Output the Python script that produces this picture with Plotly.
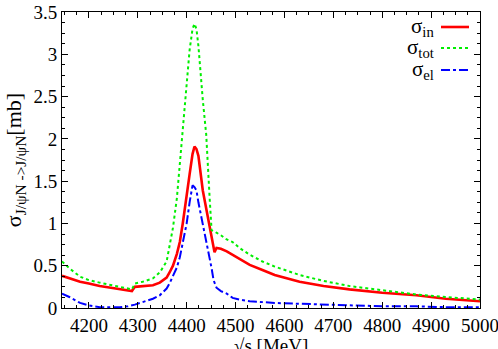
import plotly.graph_objects as go

# sqrt(s) grid [MeV] and cross sections [mb]
energy = [4145, 4160, 4182, 4200, 4222, 4245, 4263, 4280, 4288, 4294, 4310, 4331,
          4345, 4359, 4365, 4372, 4380, 4386, 4392, 4400, 4406, 4412, 4416, 4420,
          4424, 4433, 4440, 4447, 4451, 4455, 4457, 4461, 4470, 4482, 4494, 4508,
          4529, 4555, 4580, 4631, 4680, 4733, 4800, 4870, 4930, 5000]

sigma_in = [0.38, 0.35, 0.31, 0.29, 0.26, 0.24, 0.22, 0.21, 0.20, 0.25, 0.26, 0.27,
            0.30, 0.36, 0.42, 0.50, 0.64, 0.78, 1.00, 1.30, 1.58, 1.82, 1.91, 1.88,
            1.80, 1.39, 1.18, 0.98, 0.85, 0.70, 0.66, 0.71, 0.70, 0.67, 0.63, 0.58,
            0.51, 0.45, 0.39, 0.31, 0.26, 0.22, 0.18, 0.15, 0.11, 0.08]

sigma_tot = [0.55, 0.47, 0.37, 0.33, 0.30, 0.27, 0.25, 0.23, 0.22, 0.29, 0.31, 0.35,
             0.42, 0.55, 0.72, 0.95, 1.30, 1.70, 2.20, 2.65, 3.05, 3.30, 3.36, 3.30,
             3.10, 2.46, 2.05, 1.30, 0.92, 0.91, 0.90, 0.89, 0.86, 0.81, 0.78, 0.71,
             0.63, 0.55, 0.49, 0.39, 0.32, 0.26, 0.21, 0.16, 0.13, 0.10]

sigma_el = [0.17, 0.13, 0.06, 0.03, 0.01, 0.01, 0.01, 0.02, 0.03, 0.04, 0.07, 0.11,
            0.15, 0.23, 0.29, 0.38, 0.48, 0.60, 0.78, 1.00, 1.25, 1.45, 1.43, 1.39,
            1.25, 1.00, 0.80, 0.60, 0.47, 0.33, 0.30, 0.24, 0.20, 0.17, 0.12, 0.10,
            0.08, 0.07, 0.06, 0.05, 0.04, 0.03, 0.02, 0.02, 0.01, 0.01]

FONT = "Liberation Serif, Times New Roman, serif"

fig = go.Figure()
fig.add_trace(go.Scatter(x=energy, y=sigma_in, mode="lines",
                         line=dict(color="#ff0000", width=2.6)))
fig.add_trace(go.Scatter(x=energy, y=sigma_tot, mode="lines",
                         line=dict(color="#00ee00", width=2, dash="dot")))
fig.add_trace(go.Scatter(x=energy, y=sigma_el, mode="lines",
                         line=dict(color="#0000ff", width=2, dash="dashdot")))

axis_common = dict(showline=True, linecolor="black", linewidth=1, mirror="allticks",
                   ticks="inside", ticklen=6, tickcolor="black", showgrid=False,
                   zeroline=False, automargin=False, ticklabeloverflow="allow",
                   tickfont=dict(family=FONT, size=19, color="black"))

fig.update_xaxes(range=[4145, 5000], tick0=4200, dtick=100,
                 minor=dict(dtick=25, ticks="inside", ticklen=3, tickcolor="black"),
                 **axis_common)
fig.update_yaxes(range=[0, 3.5], dtick=0.5,
                 minor=dict(dtick=0.125, ticks="inside", ticklen=3, tickcolor="black"),
                 **axis_common)

# axis titles as annotations so they sit exactly where the reference has them
fig.add_annotation(text="√s [MeV]", xref="paper", yref="paper", x=0.5, y=-0.127,
                   xanchor="center", yanchor="middle", showarrow=False,
                   font=dict(family=FONT, size=19, color="black"))
fig.add_annotation(text="σ<sub>J/ψN ->J/ψN</sub>[mb]", xref="paper", yref="paper",
                   x=-0.112, y=0.5, xanchor="center", yanchor="middle", textangle=-90,
                   showarrow=False, font=dict(family=FONT, size=22, color="black"))

# legend drawn by hand: label on the left, line sample on the right
legend_items = [("σ<sub>in</sub>", "#ff0000", "solid", 2.6, 27),
                ("σ<sub>tot</sub>", "#00ee00", "dot", 2, 48),
                ("σ<sub>el</sub>", "#0000ff", "dashdot", 2, 70)]
for label, color, dash, width, ypx in legend_items:
    yp = 1 - (ypx - 12) / 296
    fig.add_annotation(text=label, xref="paper", yref="paper", x=(436 - 62) / 418, y=yp,
                       xanchor="right", yanchor="middle", showarrow=False,
                       font=dict(family=FONT, size=21, color="black"))
    fig.add_shape(type="line", xref="paper", yref="paper",
                  x0=(441 - 62) / 418, x1=(469 - 62) / 418, y0=yp, y1=yp,
                  line=dict(color=color, width=width, dash=dash))

fig.update_layout(width=498, height=349, showlegend=False,
                  margin=dict(l=62, r=18, t=12, b=41),
                  plot_bgcolor="white", paper_bgcolor="white")

# drop the browser's default 8px body margin so the figure fills the window
fig.write_html("out.html", config={"displayModeBar": False},
               post_script="document.body.style.margin='0';")
